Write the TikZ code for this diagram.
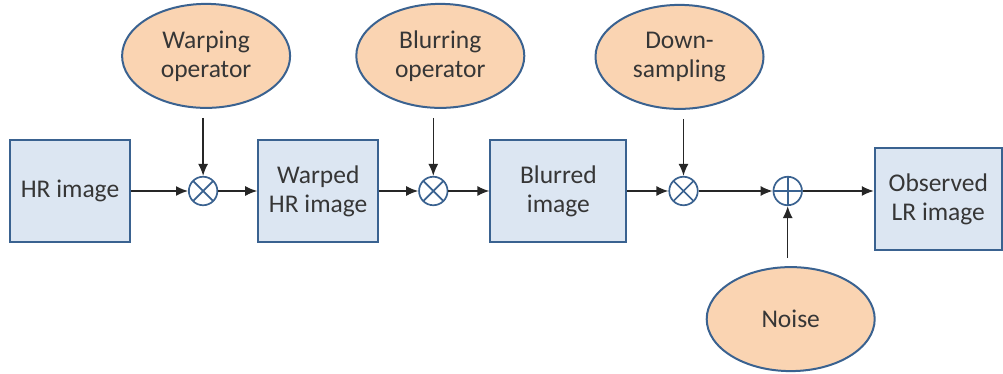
\documentclass[tikz,border=0pt]{standalone}
\usepackage{fontspec}
\setmainfont{Carlito}
\usetikzlibrary{shapes.geometric, arrows.meta, positioning}

\definecolor{boxblue}{HTML}{DCE6F2}
\definecolor{edgeblue}{HTML}{3A6290}
\definecolor{peach}{HTML}{FAD4B2}
\definecolor{textgray}{HTML}{363636}

\begin{document}
\begin{tikzpicture}[node distance=40pt, >={Latex[length=12pt,width=10pt]}, font=\fontsize{25.5}{29}\selectfont,
    block/.style={rectangle, draw=edgeblue, line width=2pt, fill=boxblue, text=textgray, align=center, minimum width=120pt, minimum height=102pt, inner sep=0pt},
    oper/.style={ellipse, draw=edgeblue, line width=2pt, fill=peach, text=textgray, align=center, minimum width=168pt, minimum height=104pt, inner sep=0pt},
    mult/.style={circle, draw=edgeblue, line width=1.7pt, fill=white, minimum size=28.5pt, inner sep=0pt,
        path picture={\draw[edgeblue, line width=1.7pt] (path picture bounding box.north west) -- (path picture bounding box.south east) (path picture bounding box.north east) -- (path picture bounding box.south west);}},
    summ/.style={circle, draw=edgeblue, line width=1.7pt, fill=white, minimum size=28.5pt, inner sep=0pt,
        path picture={\draw[edgeblue, line width=1.7pt] (path picture bounding box.north) -- (path picture bounding box.south) (path picture bounding box.east) -- (path picture bounding box.west);}},
    line/.style={draw, ->, line width=1.5pt, black!85}]

    \useasboundingbox (-70pt,-183pt) rectangle (933pt,191pt);

    \node [block] (hr) {HR image};
    \node [mult, right=57pt of hr] (m1) {};
    \node [block, right=39pt of m1] (warped) {Warped\\HR image};
    \node [mult, right=39pt of warped] (m2) {};
    \node [block, right=41pt of m2, minimum width=136pt] (blurred) {Blurred\\image};
    \node [mult, right=41pt of blurred] (m3) {};
    \node [summ, right=74pt of m3] (plus) {};
    \node [block, right=71pt of plus, minimum width=127pt, yshift=-8pt] (obs) {Observed\\LR image};

    \node [oper, above=67pt of m1, xshift=3pt] (warping) {Warping\\operator};
    \node [oper, above=67pt of m2, xshift=7pt] (blurring) {Blurring\\operator};
    \node [oper, above=66pt of m3, xshift=-4pt] (down) {Down-\\sampling};
    \node [oper, below=60pt of plus, xshift=3pt] (noise) {Noise};

    \path [line] (hr) -- (m1);
    \path [line] (m1) -- (warped);
    \path [line] (warped) -- (m2);
    \path [line] (m2) -- (blurred);
    \path [line] (blurred) -- (m3);
    \path [line] (m3) -- (plus);
    \path [line] (plus) -- (plus -| obs.west);
    \path [line, shorten <=9pt] (warping.south -| m1) -- (m1);
    \path [line, shorten <=9pt] (blurring.south -| m2) -- (m2);
    \path [line, shorten <=9pt] (down.south -| m3) -- (m3);
    \path [line, shorten <=8pt] (noise.north -| plus) -- (plus);
\end{tikzpicture}
\end{document}
